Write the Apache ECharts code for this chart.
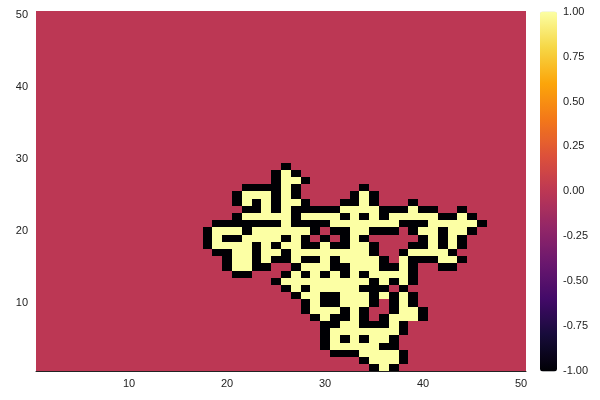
<!DOCTYPE html>
<html>
<head>
<meta charset="utf-8">
<script src="https://cdn.jsdelivr.net/npm/echarts@6/dist/echarts.min.js"></script>
<style>
  html, body { margin: 0; padding: 0; background: #fff; }
  #chart { width: 600px; height: 400px; }
</style>
</head>
<body>
<div id="chart"></div>
<script>
// cell grid, top row (y = 50) first, bottom row (y = 1) last
// '.' = 0, '#' = -1, 'o' = 1 ; each string is x = 1..50
const cellRows = [
  '..................................................', // 50
  '..................................................',
  '..................................................',
  '..................................................',
  '..................................................',
  '..................................................', // 45
  '..................................................',
  '..................................................',
  '..................................................',
  '..................................................',
  '..................................................', // 40
  '..................................................',
  '..................................................',
  '..................................................',
  '..................................................',
  '..................................................', // 35
  '..................................................',
  '..................................................',
  '..................................................',
  '..................................................',
  '..................................................', // 30
  '.........................#........................', // 29
  '........................#o#.......................',
  '........................#oo#......................',
  '.....................####o#......#................',
  '....................#ooo#o#.....#o#...............', // 25
  '....................#o#o#oo#...##o#...#...........',
  '.....................##o#o#####oooo###o##..#......',
  '....................#ooooo#oooo#o#o#ooooo##o#.....',
  '..................#######o####ooooooo###ooooo#....',
  '.................#ooo#oooooo#.##oo###.#oo#oo#.....', // 20
  '.................#o##oooo#o#.#.#o#.....#o#o#......',
  '.................#oooo#o#oo##o##oo#...##o#o#......',
  '..................##oo#oo#oooooooo#..#oooo#.......',
  '...................#oo#o##o##o#oooo#.o###oo#......',
  '...................#oo##..#ooo##ooo##o#..##.......', // 15
  '....................##...#o#o#o#o#oooo#...........',
  '........................#ooooooooo#o#o#...........',
  '.........................#o#ooooo###.#............',
  '..........................#oo##ooo#o#o#...........',
  '...........................#o##ooo#.#o#...........', // 10
  '...........................#ooo#o#..#oo#..........',
  '............................#o##o#.#ooo#..........',
  '.............................##oo###o#............',
  '.............................#ooooooo#............',
  '.............................#o#o#oo#.............', // 5
  '.............................#ooooo##.............',
  '..............................###oooo#............',
  '.................................#ooo#............',
  '..................................#o#.............'  // 1
];
const cellValue = { '.': 0, '#': -1, 'o': 1 };

const xCategories = ['1','2','3','4','5','6','7','8','9','10','11','12','13','14','15','16','17','18','19','20',
  '21','22','23','24','25','26','27','28','29','30','31','32','33','34','35','36','37','38','39','40',
  '41','42','43','44','45','46','47','48','49','50'];
const yCategories = xCategories.slice();
const xTickLabels = ['10', '20', '30', '40', '50'];
const yTickLabels = ['10', '20', '30', '40', '50'];
const colorbarMin = -1;
const colorbarMax = 1;
const colorbarStep = 0.25;
const inferno = ['#000004', '#160b39', '#420a68', '#6a176e', '#932667', '#bc3754',
  '#dd513a', '#f37819', '#fca50a', '#f6d746', '#fcffa4'];

const heatData = [];
cellRows.forEach(function (row, i) {
  const yi = cellRows.length - 1 - i;
  for (let xi = 0; xi < row.length; xi++) {
    heatData.push([xi, yi, cellValue[row[xi]]]);
  }
});

// snap each cell to whole pixels so no seams show between cells
function renderCell(params, api) {
  const c = api.coord([api.value(0), api.value(1)]);
  const s = api.size([1, 1]);
  const x0 = Math.round(c[0] - s[0] / 2);
  const x1 = Math.round(c[0] + s[0] / 2);
  const y0 = Math.round(c[1] - s[1] / 2);
  const y1 = Math.round(c[1] + s[1] / 2);
  return {
    type: 'rect',
    shape: { x: x0, y: y0, width: x1 - x0, height: y1 - y0 },
    style: { fill: api.visual('color') }
  };
}

const font = 'Liberation Sans';
const chart = echarts.init(document.getElementById('chart'), null, { renderer: 'canvas' });

chart.setOption({
  animation: false,
  textStyle: { fontFamily: font },
  grid: [
    { left: 36, right: 74, top: 11.5, bottom: 28.6 },
    { left: 540, width: 17, top: 11.5, bottom: 28.6 }
  ],
  xAxis: [
    {
      type: 'category', data: xCategories, gridIndex: 0,
      axisLine: { show: true, lineStyle: { color: '#222', width: 1 } },
      axisTick: { show: false },
      splitLine: { show: false },
      axisLabel: {
        interval: function (idx, value) { return xTickLabels.indexOf(value) >= 0; },
        color: '#222', fontSize: 11, margin: 7, fontFamily: font
      }
    },
    { type: 'value', gridIndex: 1, show: false, min: 0, max: 1 }
  ],
  yAxis: [
    {
      type: 'category', data: yCategories, gridIndex: 0,
      axisLine: { show: true, lineStyle: { color: '#222', width: 1 } },
      axisTick: { show: false },
      splitLine: { show: false },
      axisLabel: {
        interval: function (idx, value) { return yTickLabels.indexOf(value) >= 0; },
        color: '#222', fontSize: 11, margin: 8, fontFamily: font
      }
    },
    {
      type: 'value', gridIndex: 1, position: 'right',
      min: colorbarMin, max: colorbarMax, interval: colorbarStep,
      axisLine: { show: false },
      axisTick: { show: false },
      splitLine: { show: false },
      axisLabel: {
        color: '#222', fontSize: 11, margin: 6, fontFamily: font,
        formatter: function (v) { return v.toFixed(2); }
      }
    }
  ],
  visualMap: {
    type: 'continuous',
    seriesIndex: 0,
    dimension: 2,
    min: colorbarMin,
    max: colorbarMax,
    calculable: false,
    realtime: false,
    left: 540,
    top: 11.5,
    itemWidth: 17,
    itemHeight: 360,
    padding: 0,
    text: null,
    showLabel: false,
    inRange: { color: inferno }
  },
  series: [{
    type: 'custom',
    xAxisIndex: 0,
    yAxisIndex: 0,
    data: heatData,
    encode: { x: 0, y: 1 },
    renderItem: renderCell,
    progressive: 0,
    silent: true
  }]
});
</script>
</body>
</html>
